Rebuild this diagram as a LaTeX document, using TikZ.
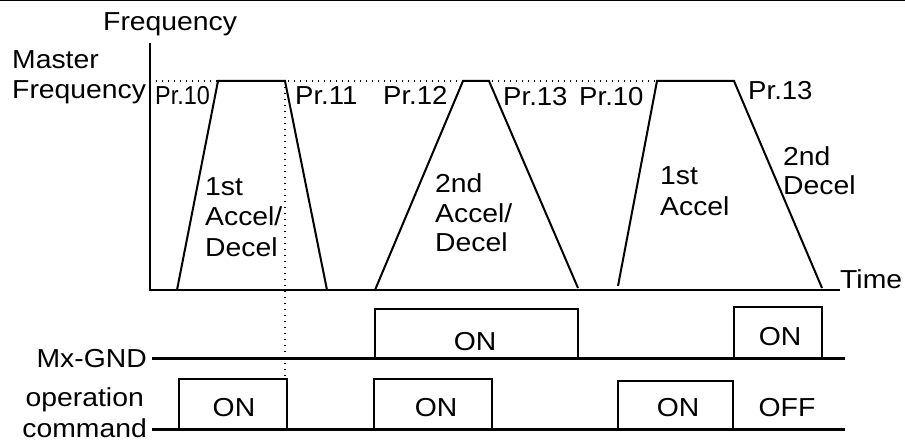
\documentclass[tikz,border=0pt]{standalone}
\usepackage{fontspec}
\setmainfont{Liberation Sans}[FakeStretch=1.09]
\newfontfamily\prfont{Liberation Sans}[FakeStretch=1.06]
\newfontfamily\prnarrow{Liberation Sans}[FakeStretch=0.9]
\begin{document}
\begin{tikzpicture}[x=1pt,y=-1pt,
  txt/.style={inner sep=0pt, font=\fontsize{26}{30}\selectfont, anchor=base west},
  rtxt/.style={txt, anchor=base east},
  ctxt/.style={txt, anchor=base},
  prtxt/.style={inner sep=0pt, font=\fontsize{26}{30}\selectfont\prfont, anchor=base west},
  axisline/.style={line width=2.5pt},
  ramp/.style={line width=2pt, line join=miter},
  sigline/.style={line width=3pt},
  pulse/.style={line width=2pt, line join=miter},
  dotline/.style={line width=1.3pt, dash pattern=on 1.3pt off 4.7pt},
  topline/.style={line width=1.5pt}]
\useasboundingbox (0,0) rectangle (905,441);
% top rule
\coordinate (tl) at (0,0.75);
\coordinate (tr) at (905,0.75);
\draw[topline] (tl) -- (tr);
% axes
\coordinate (yt) at (150,43);
\coordinate (o) at (150,290);
\coordinate (xe) at (840,290);
\draw[axisline] (yt) -- (o) -- (xe);
% master frequency level
\coordinate (mf0) at (150,81);
\coordinate (mf1) at (655,81);
\draw[dotline] (mf0) -- (mf1);
% vertical dotted marker
\coordinate (vd0) at (285,81);
\coordinate (vd1) at (285,378);
\draw[dotline] (vd0) -- (vd1);
% trapezoids
\coordinate (a1) at (177,290); \coordinate (b1) at (218,81);
\coordinate (c1) at (285,81);  \coordinate (d1) at (327,290);
\draw[ramp] (a1) -- (b1) -- (c1) -- (d1);
\coordinate (a2) at (375,290); \coordinate (b2) at (463,81);
\coordinate (c2) at (489,81);  \coordinate (d2) at (578,288);
\draw[ramp] (a2) -- (b2) -- (c2) -- (d2);
\coordinate (a3) at (618,286); \coordinate (b3) at (657,81);
\coordinate (c3) at (734,81);  \coordinate (d3) at (822,288);
\draw[ramp] (a3) -- (b3) -- (c3) -- (d3);
% Mx-GND signal
\coordinate (m0) at (152,358);
\coordinate (m1) at (845,358);
\draw[sigline] (m0) -- (m1);
\coordinate (mp1a) at (375,358); \coordinate (mp1b) at (375,309);
\coordinate (mp1c) at (578,309); \coordinate (mp1d) at (578,358);
\draw[pulse] (mp1a) -- (mp1b) -- (mp1c) -- (mp1d);
\coordinate (mp2a) at (734,358); \coordinate (mp2b) at (734,307);
\coordinate (mp2c) at (822,307); \coordinate (mp2d) at (822,358);
\draw[pulse] (mp2a) -- (mp2b) -- (mp2c) -- (mp2d);
% operation command signal
\coordinate (q0) at (152,429);
\coordinate (q1) at (845,429);
\draw[sigline] (q0) -- (q1);
\coordinate (qp1a) at (179,429); \coordinate (qp1b) at (179,379);
\coordinate (qp1c) at (287,379); \coordinate (qp1d) at (287,429);
\draw[pulse] (qp1a) -- (qp1b) -- (qp1c) -- (qp1d);
\coordinate (qp2a) at (374,429); \coordinate (qp2b) at (374,379);
\coordinate (qp2c) at (492,379); \coordinate (qp2d) at (492,429);
\draw[pulse] (qp2a) -- (qp2b) -- (qp2c) -- (qp2d);
\coordinate (qp3a) at (618,429); \coordinate (qp3b) at (618,381);
\coordinate (qp3c) at (733,381); \coordinate (qp3d) at (733,429);
\draw[pulse] (qp3a) -- (qp3b) -- (qp3c) -- (qp3d);
% labels
\node[txt] (freq) at (103,31) {Frequency};
\node[txt] (master) at (12,69) {Master};
\node[txt] (mfreq) at (12,99) {Frequency};
\node[inner sep=0pt, font=\fontsize{26}{30}\selectfont\prnarrow, anchor=base west] (p10a) at (155,105) {Pr.10};
\node[prtxt] (p11) at (295,105) {Pr.11};
\node[prtxt] (p12) at (383,105) {Pr.12};
\node[prtxt] (p13a) at (503,106) {Pr.13};
\node[prtxt] (p10b) at (579,106) {Pr.10};
\node[prtxt] (p13b) at (748,100) {Pr.13};
\node[txt] (t1a) at (205,195) {1st};
\node[txt] (t1b) at (205,225) {Accel/};
\node[txt] (t1c) at (205,256) {Decel};
\node[txt] (t2a) at (435,192) {2nd};
\node[txt] (t2b) at (435,222) {Accel/};
\node[txt] (t2c) at (435,251) {Decel};
\node[txt] (t3a) at (660,185) {1st};
\node[txt] (t3b) at (660,215) {Accel};
\node[txt] (t4a) at (783,165) {2nd};
\node[txt] (t4b) at (783,194) {Decel};
\node[txt] (time) at (840,288) {Time};
\node[rtxt] (mx) at (147,367) {Mx-GND};
\node[rtxt] (op) at (144,406) {operation};
\node[rtxt] (cmd) at (147,437) {command};
\node[ctxt] (on1) at (475,350) {ON};
\node[ctxt] (on2) at (780,345) {ON};
\node[ctxt] (on3) at (234,416) {ON};
\node[ctxt] (on4) at (436,416) {ON};
\node[ctxt] (on5) at (678,416) {ON};
\node[ctxt] (off) at (787,416) {OFF};
\end{tikzpicture}
\end{document}
